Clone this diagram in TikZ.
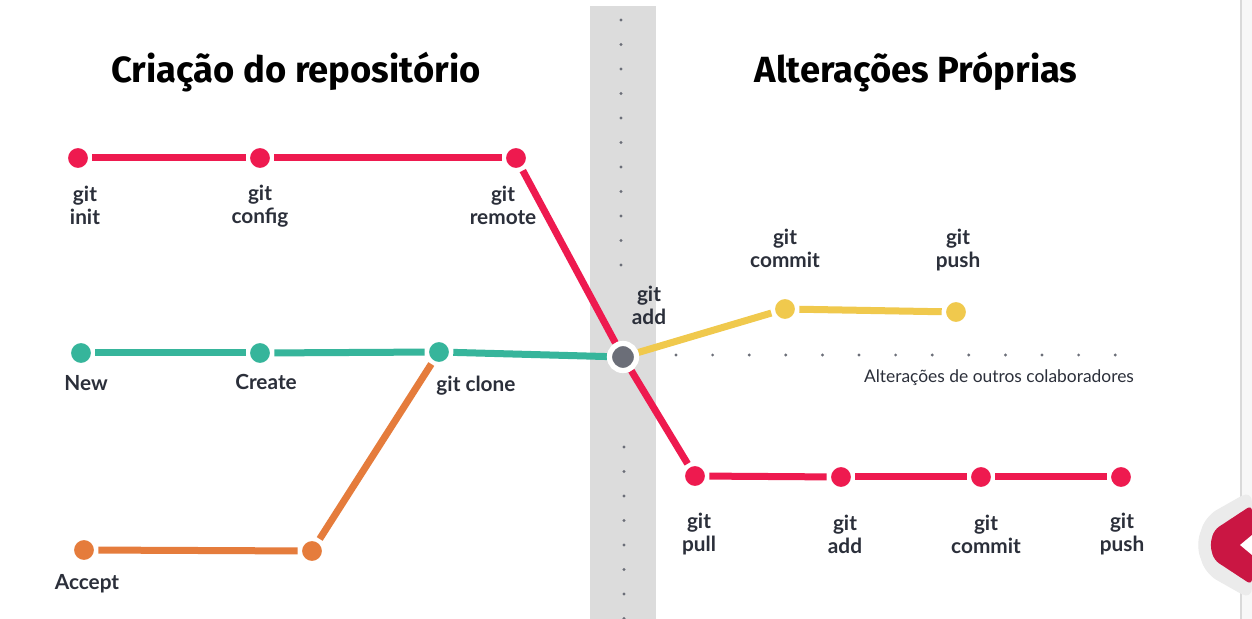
\documentclass[tikz,border=0pt]{standalone}
\usepackage{fontspec}
\setmainfont{Lato}
\newfontfamily\titlefont{Fira Sans}
\usetikzlibrary{positioning, backgrounds}
\definecolor{gitred}{HTML}{EE1A4F}
\definecolor{gitteal}{HTML}{36B59B}
\definecolor{gitorange}{HTML}{E57C3C}
\definecolor{gityellow}{HTML}{F0C94D}
\definecolor{txt}{HTML}{2B2F3A}
\definecolor{band}{HTML}{DCDCDC}
\definecolor{dotgray}{HTML}{6B6E78}
\tikzset{
  stop/.style={circle, fill=#1, draw=white, line width=1.5pt, minimum size=11.5pt, inner sep=0pt, outer sep=1.4pt},
  merge/.style={circle, fill=dotgray, draw=white, line width=2.6pt, minimum size=13.5pt, inner sep=0pt, outer sep=1.3pt},
  track/.style={draw=#1, line width=3.5pt},
  lbl/.style={text=txt, font=\fontsize{10.4}{11.5}\selectfont\bfseries, align=center, inner sep=0pt},
  ttl/.style={text=black, font=\titlefont\fontsize{18.2}{21}\selectfont\bfseries, inner sep=0pt},
  tiny/.style={circle, fill=dotgray, inner sep=0pt, minimum size=1.6pt},
}
\begin{document}
\begin{tikzpicture}[x=0.5pt, y=-0.5pt]
    \useasboundingbox (0,0) rectangle (1252,619);
    \begin{scope}[on background layer]
      \fill[white] (0,0) rectangle (1252,619);
      \fill[band] (590,6) rectangle (656,619);
    \end{scope}
    % browser edge
    \fill[black!3] (1241,0) rectangle (1252,619);
    \draw[black!15, line width=0.6pt] (1241,0) -- (1241,619);
    \fill[black!8, rounded corners=6pt] (1252,490) -- (1206,516) -- (1196,545) -- (1206,574) -- (1252,600) -- cycle;
    \fill[gitred!85!black, rounded corners=3pt] (1252,505) -- (1214,530) -- (1210,545) -- (1214,560) -- (1252,585) -- cycle;
    \fill[white] (1252,535) -- (1240,545) -- (1252,555) -- cycle;
    % titles
    \node[ttl] (t1) at (296,72) {Criação do repositório};
    \node[ttl] (t2) at (916,72) {Alterações Próprias};
    % stops
    \node[stop=gitred] (init) at (78,158) {};
    \node[stop=gitred] (config) at (260,158) {};
    \node[stop=gitred] (remote) at (516,158) {};
    \node[stop=gitteal] (new) at (81,353) {};
    \node[stop=gitteal] (create) at (260,353) {};
    \node[stop=gitteal] (clone) at (439,352) {};
    \node[stop=gitorange] (accept) at (84,550) {};
    \node[stop=gitorange] (fork) at (312,551) {};
    \node[merge] (hub) at (623,357) {};
    \node[stop=gityellow] (ycommit) at (785,309) {};
    \node[stop=gityellow] (ypush) at (956,312) {};
    \node[stop=gitred] (pull) at (695,476) {};
    \node[stop=gitred] (radd) at (841,477) {};
    \node[stop=gitred] (rcommit) at (981,477) {};
    \node[stop=gitred] (rpush) at (1121,477) {};
    % labels
    \node[lbl] (linit) at (85,205) {git\\init};
    \node[lbl] (lconfig) at (260,206) {git\\config};
    \node[lbl] (lremote) at (503,205) {git\\remote};
    \node[lbl] (lnew) at (86,383) {New};
    \node[lbl] (lcreate) at (266,382) {Create};
    \node[lbl] (lclone) at (476,386) {git clone};
    \node[lbl] (laccept) at (87,584) {Accept};
    \node[lbl] (lhub) at (649,305) {git\\add};
    \node[lbl] (lycommit) at (785,248) {git\\commit};
    \node[lbl] (lypush) at (958,250) {git\\push};
    \node[lbl] (lpull) at (699,534) {git\\pull};
    \node[lbl] (ladd) at (845,534) {git\\add};
    \node[lbl] (lcommit) at (986,534) {git\\commit};
    \node[lbl] (lpush) at (1122,534) {git\\push};
    \node[text=txt, font=\fontsize{8.7}{10}\selectfont, inner sep=0pt] (others) at (999,378) {Alterações de outros colaboradores};
    % dotted guides
    \foreach \i in {0,...,12}
      \node[tiny] (h\i) at (676+36.6*\i,355) {};
    \foreach \i in {0,...,10}
      \node[tiny] (u\i) at (621,20+24.5*\i) {};
    \foreach \i in {0,...,7}
      \node[tiny] (d\i) at (624,447+24.5*\i) {};
    \begin{scope}[on background layer]
      \draw[track=gitred] (init) -- (config);
      \draw[track=gitred] (config) -- (remote);
      \draw[track=gitred] (remote) -- (hub);
      \draw[track=gitred] (hub) -- (pull);
      \draw[track=gitred] (pull) -- (radd);
      \draw[track=gitred] (radd) -- (rcommit);
      \draw[track=gitred] (rcommit) -- (rpush);
      \draw[track=gitteal] (new) -- (create);
      \draw[track=gitteal] (create) -- (clone);
      \draw[track=gitteal] (clone) -- (hub);
      \draw[track=gitorange] (accept) -- (fork);
      \draw[track=gitorange] (fork) -- (clone);
      \draw[track=gityellow] (hub) -- (ycommit);
      \draw[track=gityellow] (ycommit) -- (ypush);
    \end{scope}
\end{tikzpicture}
\end{document}
